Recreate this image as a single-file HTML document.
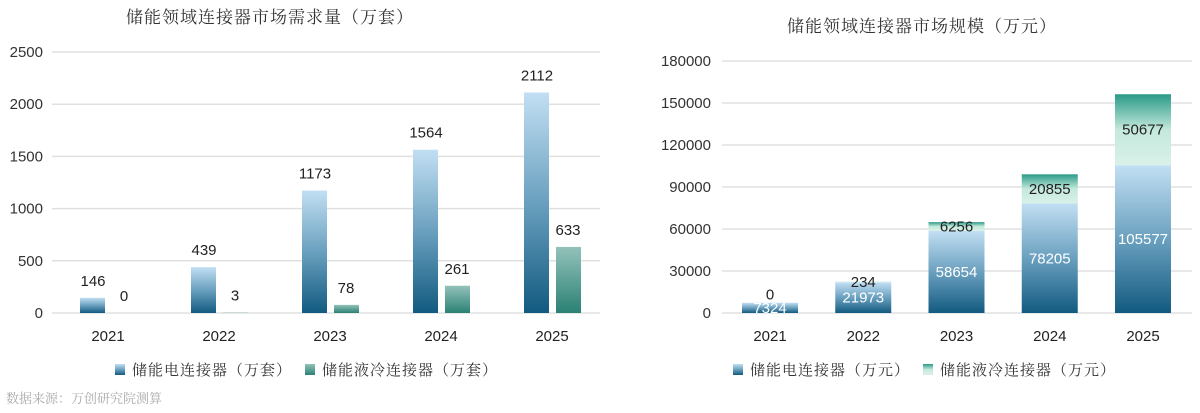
<!DOCTYPE html>
<html><head><meta charset="utf-8">
<style>
body{margin:0;background:#fff;width:1200px;height:413px;overflow:hidden}
svg{display:block}
text{font-family:"Liberation Sans","Noto Sans CJK SC",sans-serif}
.cn{font-family:"Noto Serif CJK SC","Noto Sans CJK SC",serif}
</style></head>
<body>
<svg id="svg" width="1200" height="413" viewBox="0 0 1200 413">
<defs>
<linearGradient id="gBlue" x1="0" y1="0" x2="0" y2="1"><stop offset="0" stop-color="#c2dff3"/><stop offset="0.5" stop-color="#6aa0bf"/><stop offset="1" stop-color="#125a80"/></linearGradient>
<linearGradient id="gTeal" x1="0" y1="0" x2="0" y2="1"><stop offset="0" stop-color="#93c2ba"/><stop offset="1" stop-color="#2b8174"/></linearGradient>
<linearGradient id="gTeal2" x1="0" y1="0" x2="0" y2="1"><stop offset="0" stop-color="#2a9a87"/><stop offset="0.5" stop-color="#c4e9dc"/><stop offset="1" stop-color="#d9f1e8"/></linearGradient>
</defs>
<text class="cn" x="270" y="23" font-size="17" letter-spacing="1" text-anchor="middle" fill="#333">储能领域连接器市场需求量（万套）</text>
<text class="cn" x="922" y="32" font-size="17" letter-spacing="1" text-anchor="middle" fill="#333">储能领域连接器市场规模（万元）</text>
<g id="left"></g>
<g id="right"></g>
<g>
<rect x="115" y="364" width="10" height="11" fill="url(#gBlue)"/>
<text class="cn" x="132" y="375" font-size="15" letter-spacing="1" fill="#333">储能电连接器（万套）</text>
<rect x="305" y="364" width="10" height="11" fill="url(#gTeal)"/>
<text class="cn" x="322" y="375" font-size="15" letter-spacing="1" fill="#333">储能液冷连接器（万套）</text>
</g>
<g>
<rect x="733" y="364" width="10" height="11" fill="url(#gBlue)"/>
<text class="cn" x="750" y="375" font-size="15" letter-spacing="1" fill="#333">储能电连接器（万元）</text>
<rect x="923" y="364" width="10" height="11" fill="url(#gTeal2)"/>
<text class="cn" x="940" y="375" font-size="15" letter-spacing="1" fill="#333">储能液冷连接器（万元）</text>
</g>
<text class="cn" x="6" y="403" font-size="13" fill="#aaa">数据来源：万创研究院测算</text>
</svg>
<script>
const years=["2021","2022","2023","2024","2025"];
const leftElectric=[146,439,1173,1564,2112];
const leftLiquid=[0,3,78,261,633];
const leftTicks=[0,500,1000,1500,2000,2500];
const rightElectric=[7324,21973,58654,78205,105577];
const rightLiquid=[0,234,6256,20855,50677];
const rightTicks=[0,30000,60000,90000,120000,150000,180000];
const NS="http://www.w3.org/2000/svg";
function mk(p,t,a){const e=document.createElementNS(NS,t);for(const k in a)e.setAttribute(k,a[k]);p.appendChild(e);return e;}
const L=document.getElementById('left');
const ly=v=>313-v*(261/2500);
const lx=i=>108+i*111;
leftTicks.forEach(t=>{
 const g=mk(L,'line',{x1:52,x2:600,y1:ly(t),y2:ly(t),stroke:'#e0e0e0','stroke-width':1.5});
 
 
 const tx=mk(L,'text',{x:43,y:ly(t)+5,'font-size':15,'text-anchor':'end',fill:'#333'});tx.textContent=t;
 
 
});
years.forEach((y,i)=>{
 const c=lx(i);
 const b=mk(L,'rect',{x:c-28,y:ly(leftElectric[i]),width:25,height:313-ly(leftElectric[i]),fill:'url(#gBlue)'});
 
 
 const t=mk(L,'rect',{x:c+4,y:ly(leftLiquid[i]),width:25,height:313-ly(leftLiquid[i]),fill:'url(#gTeal)'});
 
 
 const l1=mk(L,'text',{x:c-15,y:ly(leftElectric[i])-12,'font-size':15,'text-anchor':'middle',fill:'#222'});l1.textContent=leftElectric[i];
 
 
 const l2=mk(L,'text',{x:c+16,y:ly(leftLiquid[i])-12,'font-size':15,'text-anchor':'middle',fill:'#222'});l2.textContent=leftLiquid[i];
 
 
 const xl=mk(L,'text',{x:c,y:341,'font-size':15,'text-anchor':'middle',fill:'#222'});xl.textContent=y;
 
 
});
const R=document.getElementById('right');
const ry=v=>313-v*(252/180000);
const rx=i=>770+i*93.25;
rightTicks.forEach(t=>{
 const g=mk(R,'line',{x1:722,x2:1192,y1:ry(t),y2:ry(t),stroke:'#e0e0e0','stroke-width':1.5});
 
 
 const tx=mk(R,'text',{x:711,y:ry(t)+5,'font-size':15,'text-anchor':'end',fill:'#333'});tx.textContent=t;
 
 
});
years.forEach((y,i)=>{
 const c=rx(i),e=rightElectric[i],q=rightLiquid[i];
 const b=mk(R,'rect',{x:c-28,y:ry(e),width:56,height:313-ry(e),fill:'url(#gBlue)'});
 
 
 const t=mk(R,'rect',{x:c-28,y:ry(e+q),width:56,height:ry(e)-ry(e+q),fill:'url(#gTeal2)'});
 
 
 const l1=mk(R,'text',{x:c,y:(ry(e)+313)/2+5,'font-size':15,'text-anchor':'middle',fill:'#fff'});l1.textContent=e;
 
 
 const my=q===0?ry(e+q)-8:(ry(e)+ry(e+q))/2;
 const l2=mk(R,'text',{x:c,y:my+5,'font-size':15,'text-anchor':'middle',fill:'#222'});l2.textContent=q;
 
 
 const xl=mk(R,'text',{x:c,y:341,'font-size':15,'text-anchor':'middle',fill:'#222'});xl.textContent=y;
 
 
});
</script>
</body></html>
